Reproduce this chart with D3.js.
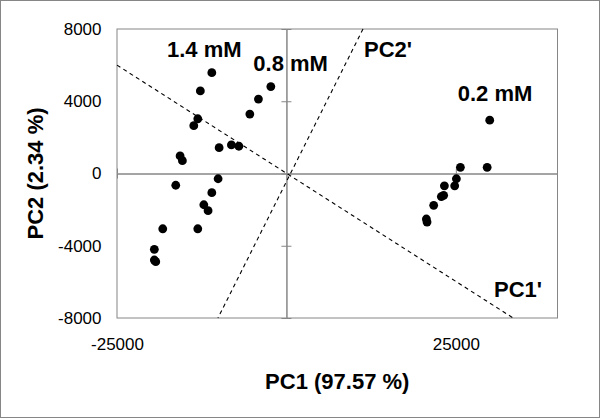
<!DOCTYPE html>
<html>
<head>
<meta charset="utf-8">
<script src="https://cdn.jsdelivr.net/npm/d3@7"></script>
<style>
  html, body { margin: 0; padding: 0; background: #fff; }
  svg { display: block; }
</style>
</head>
<body>
<svg id="chart" width="600" height="418"></svg>
<script>
// ---- Data (PC scores) ----
const group14 = [
  [-11010, 5580], [-12700, 4570], [-13080, 3030], [-13670, 2650],
  [-15690, 970], [-15350, 710], [-16330, -650], [-18250, -3060],
  [-19490, -4200], [-19490, -4790], [-19280, -4880]
];
const group08 = [
  [-2300, 4810], [-4130, 4120], [-5400, 3290], [-9930, 1430],
  [-8120, 1580], [-7020, 1510], [-10080, -290], [-11010, -1060],
  [-12190, -1730], [-11560, -2060], [-13080, -3060]
];
const group02 = [
  [30000, 2950], [25670, 340], [29620, 340], [25080, -290],
  [24830, -680], [23310, -680], [23200, -1210], [22860, -1280],
  [21730, -1760], [20650, -2520], [20750, -2690]
];
const groupLabels = ["1.4 mM", "0.8 mM", "0.2 mM"];
// rotated axes (dashed lines), endpoints in data units
const pc1Prime = [[-25000, 6000], [33460, -8000]];
const pc2Prime = [[11300, 8000], [-10100, -8000]];
const axisLabels = ["PC1'", "PC2'"];
const xTicks = [-25000, 25000];
const yTicks = [-8000, -4000, 0, 4000, 8000];
const xDomain = [-25000, 40000];
const yDomain = [-8000, 8000];
const xTitle = "PC1 (97.57 %)";
const yTitle = "PC2 (2.34 %)";

// ---- Layout ----
const W = 600, H = 418;
const plot = { left: 117, right: 557.5, top: 29, bottom: 318 };
const gray = "#868686";
const font = "'Liberation Sans', Arial, sans-serif";
const fmt = d => String(d);

const svg = d3.select("#chart");
svg.append("rect").attr("width", W).attr("height", H).attr("fill", "#fff");
svg.append("rect").attr("x", 0.5).attr("y", 0.5).attr("width", W - 1).attr("height", H - 1)
  .attr("fill", "none").attr("stroke", gray).attr("stroke-width", 1);

const x = d3.scaleLinear().domain(xDomain).range([plot.left, plot.right]);
const y = d3.scaleLinear().domain(yDomain).range([plot.bottom, plot.top]);

// plot area border
svg.append("rect")
  .attr("x", plot.left).attr("y", plot.top)
  .attr("width", plot.right - plot.left).attr("height", plot.bottom - plot.top)
  .attr("fill", "none").attr("stroke", gray).attr("stroke-width", 1);

// zero axes with cross ticks
function styleAxis(g) {
  g.select(".domain").attr("stroke", gray);
  g.selectAll(".tick line").attr("stroke", gray);
}
svg.append("g").attr("transform", `translate(${x(0)},0)`)
  .call(d3.axisLeft(y).tickValues(yTicks).tickSize(5).tickSizeOuter(0).tickFormat(""))
  .call(styleAxis);
svg.append("g").attr("transform", `translate(${x(0)},0)`)
  .call(d3.axisRight(y).tickValues(yTicks).tickSize(5).tickSizeOuter(0).tickFormat(""))
  .call(styleAxis);
svg.append("g").attr("transform", `translate(0,${y(0)})`)
  .call(d3.axisTop(x).tickValues(xTicks).tickSize(5).tickSizeOuter(0).tickFormat(""))
  .call(styleAxis);
svg.append("g").attr("transform", `translate(0,${y(0)})`)
  .call(d3.axisBottom(x).tickValues(xTicks).tickSize(5).tickSizeOuter(0).tickFormat(""))
  .call(styleAxis);

// tick labels at plot edges
const yLab = svg.append("g").attr("transform", `translate(${plot.left},0)`)
  .call(d3.axisLeft(y).tickValues(yTicks).tickSize(0).tickPadding(15.5).tickFormat(fmt));
yLab.select(".domain").remove();
yLab.selectAll("text").attr("font-family", font).attr("font-size", 17).attr("fill", "#000");

const xLab = svg.append("g").attr("transform", `translate(0,${plot.bottom})`)
  .call(d3.axisBottom(x).tickValues(xTicks).tickSize(0).tickPadding(20).tickFormat(fmt));
xLab.select(".domain").remove();
xLab.selectAll("text").attr("font-family", font).attr("font-size", 17).attr("fill", "#000");

// dashed rotated axes
const line = d3.line().x(d => x(d[0])).y(d => y(d[1]));
[pc1Prime, pc2Prime].forEach(l => {
  svg.append("path").attr("d", line(l))
    .attr("fill", "none").attr("stroke", "#000").attr("stroke-width", 1.1)
    .attr("stroke-dasharray", "4,3.5");
});

// points
const allPts = group14.concat(group08, group02);
svg.append("g").selectAll("circle").data(allPts).join("circle")
  .attr("cx", d => x(d[0])).attr("cy", d => y(d[1])).attr("r", 4.4).attr("fill", "#000");

// annotations
const ann = svg.append("g").attr("font-family", font).attr("font-weight", "bold")
  .attr("font-size", 22).attr("fill", "#000");
ann.append("text").attr("x", 167).attr("y", 56.7).text(groupLabels[0]);
ann.append("text").attr("x", 253.3).attr("y", 71).text(groupLabels[1]);
ann.append("text").attr("x", 457.7).attr("y", 101).text(groupLabels[2]);
ann.append("text").attr("x", 494).attr("y", 296.7).text(axisLabels[0]);
ann.append("text").attr("x", 364).attr("y", 56.7).text(axisLabels[1]);

// axis titles
svg.append("text").attr("x", (plot.left + plot.right) / 2).attr("y", 389.3)
  .attr("text-anchor", "middle").attr("font-family", font).attr("font-weight", "bold")
  .attr("font-size", 22).text(xTitle);
svg.append("text").attr("transform", `translate(42.7,${(plot.top + plot.bottom) / 2}) rotate(-90)`)
  .attr("text-anchor", "middle").attr("font-family", font).attr("font-weight", "bold")
  .attr("font-size", 22).text(yTitle);
</script>
</body>
</html>
